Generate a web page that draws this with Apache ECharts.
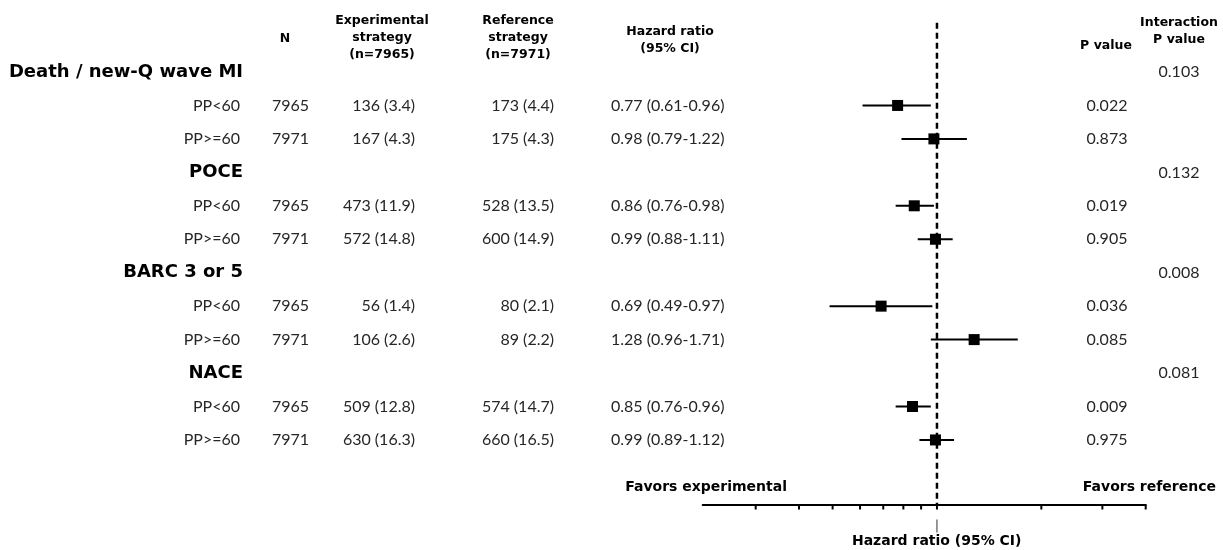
<!DOCTYPE html>
<html><head><meta charset="utf-8">
<script src="https://cdn.jsdelivr.net/npm/echarts@6/dist/echarts.min.js"></script>
<style>html,body{margin:0;padding:0;background:#fff}#c{width:1223px;height:550px}</style>
</head><body><div id="c"></div>
<script>
// ---------- data ----------
const groups = ['Death / new-Q wave MI', 'POCE', 'BARC 3 or 5', 'NACE'];
const interactionP = ['0.103', '0.132', '0.008', '0.081'];
const subgroups = ['PP<60', 'PP>=60'];
const subgroupN = [7965, 7971];
const expEvents = [136, 167, 473, 572, 56, 106, 509, 630];
const expPct = [3.4, 4.3, 11.9, 14.8, 1.4, 2.6, 12.8, 16.3];
const refEvents = [173, 175, 528, 600, 80, 89, 574, 660];
const refPct = [4.4, 4.3, 13.5, 14.9, 2.1, 2.2, 14.7, 16.5];
const hazardRatio = [0.77, 0.98, 0.86, 0.99, 0.69, 1.28, 0.85, 0.99];
const ciLow = [0.61, 0.79, 0.76, 0.88, 0.49, 0.96, 0.76, 0.89];
const ciHigh = [0.96, 1.22, 0.98, 1.11, 0.97, 1.71, 0.96, 1.12];
const pValues = ['0.022', '0.873', '0.019', '0.905', '0.036', '0.085', '0.009', '0.975'];
const xTicks = [0.3, 0.4, 0.5, 0.6, 0.7, 0.8, 0.9, 1, 2, 3, 4];
const xMin = 0.211, xMax = 4, refValue = 1;

// ---------- layout ----------
const W = 1223, H = 550;
const ROW0 = 72, ROWH = 33.45;
const TOP_Y = 22.7, AXIS_Y = 504.5;
const PLOT_L = 702.7, PLOT_R = 1145.7;
const toRow = y => (y - ROW0) / ROWH;
const FONT = 'Lato, "Open Sans", sans-serif';
const BOLD = '"DejaVu Sans", Lato, sans-serif';
const txt = '#262626';

// rows
const groupRows = groups.map((g, i) => i * 3);
const subRows = [];
const subLabels = [];
const subN = [];
groups.forEach((g, i) => subgroups.forEach((s, j) => {
  subRows.push(i * 3 + 1 + j); subLabels.push(s); subN.push(subgroupN[j]);
}));

function textSeries(x, align, rows, texts, opts) {
  opts = opts || {};
  return {
    type: 'scatter', xAxisIndex: 0, yAxisIndex: 0, symbolSize: 0, silent: true, animation: false,
    itemStyle: { color: '#000', opacity: 1 },
    data: rows.map((r, i) => [x, r, texts[i]]),
    label: {
      show: true, position: 'inside', align: align, verticalAlign: 'middle',
      formatter: p => p.data[2],
      color: opts.color || txt, fontFamily: opts.family || FONT, fontSize: opts.size || 16,
      fontWeight: opts.weight || 400, textBorderWidth: 0, textBorderColor: 'transparent', opacity: 1
    }
  };
}

const chart = echarts.init(document.getElementById('c'), null, { renderer: 'canvas' });

const hrText = hazardRatio.map((v, i) => v.toFixed(2) + ' (' + ciLow[i].toFixed(2) + '-' + ciHigh[i].toFixed(2) + ')');

function hdr(x, y, t) {
  return { type: 'text', x: x, y: y, silent: true,
    style: { text: t, fill: '#000', font: 'bold 12.5px ' + BOLD, lineHeight: 17,
      align: 'center', verticalAlign: 'middle', textAlign: 'center', textVerticalAlign: 'middle' } };
}
function lab(x, y, t, a) {
  return { type: 'text', x: x, y: y, silent: true,
    style: { text: t, fill: '#000', font: 'bold 14px ' + BOLD,
      align: a, verticalAlign: 'middle', textAlign: a, textVerticalAlign: 'middle' } };
}

const option = {
  animation: false,
  backgroundColor: '#fff',
  grid: [
    { left: 0, right: 0, top: 0, bottom: 0 },
    { left: PLOT_L, width: PLOT_R - PLOT_L, top: TOP_Y, height: AXIS_Y - TOP_Y }
  ],
  xAxis: [
    { gridIndex: 0, type: 'value', min: 0, max: W, show: false },
    { gridIndex: 1, type: 'log', logBase: 10, min: xMin, max: xMax,
      axisLine: { show: true, onZero: false, lineStyle: { color: '#000', width: 2 } },
      axisTick: { show: false }, axisLabel: { show: false }, splitLine: { show: false } }
  ],
  yAxis: [
    { gridIndex: 0, type: 'value', inverse: true, min: toRow(0), max: toRow(H), show: false },
    { gridIndex: 1, type: 'value', inverse: true, min: toRow(TOP_Y), max: toRow(AXIS_Y), show: false }
  ],
  series: [
    textSeries(243, 'right', groupRows, groups, { weight: 'bold', size: 18, color: '#000', family: BOLD }),
    textSeries(1179, 'center', groupRows, interactionP),
    textSeries(240, 'right', subRows, subLabels),
    textSeries(272, 'left', subRows, subN.map(String)),
    textSeries(415, 'right', subRows, expEvents.map((v, i) => v + ' (' + expPct[i].toFixed(1) + ')')),
    textSeries(554, 'right', subRows, refEvents.map((v, i) => v + ' (' + refPct[i].toFixed(1) + ')')),
    textSeries(611, 'left', subRows, hrText),
    textSeries(1107, 'center', subRows, pValues),
    // reference dashed line
    {
      type: 'line', xAxisIndex: 1, yAxisIndex: 1, symbol: 'none', silent: true,
      data: [[refValue, toRow(TOP_Y)], [refValue, toRow(AXIS_Y)]],
      lineStyle: { color: '#000', width: 2.5, type: [6, 4] }
    },
    // axis ticks + small line under reference
    {
      type: 'custom', xAxisIndex: 1, yAxisIndex: 1, silent: true,
      data: xTicks.map(v => [v, toRow(AXIS_Y)]),
      renderItem: (params, api) => {
        const p = api.coord([api.value(0), api.value(1)]);
        const ch = [{ type: 'line', shape: { x1: p[0], y1: p[1], x2: p[0], y2: p[1] + 5 }, style: { stroke: '#000', lineWidth: 2 } }];
        if (api.value(0) === refValue) {
          ch.push({ type: 'line', shape: { x1: p[0], y1: p[1] + 15, x2: p[0], y2: p[1] + 28 }, style: { stroke: '#333', lineWidth: 1 } });
        }
        return { type: 'group', children: ch };
      }
    },
    // CI whiskers and boxes
    {
      type: 'custom', xAxisIndex: 1, yAxisIndex: 1, silent: true,
      data: hazardRatio.map((v, i) => [ciLow[i], ciHigh[i], v, subRows[i]]),
      encode: { x: [0, 1, 2], y: 3 },
      renderItem: (params, api) => {
        const row = api.value(3);
        const a = api.coord([api.value(0), row]);
        const b = api.coord([api.value(1), row]);
        const c = api.coord([api.value(2), row]);
        const s = 11;
        return { type: 'group', children: [
          { type: 'line', shape: { x1: a[0], y1: a[1], x2: b[0], y2: b[1] }, style: { stroke: '#000', lineWidth: 2 } },
          { type: 'rect', shape: { x: c[0] - s / 2, y: c[1] - s / 2, width: s, height: s }, style: { fill: '#000' } }
        ] };
      }
    }
  ],
  graphic: [
    hdr(285, 39, 'N'),
    hdr(382, 38, 'Experimental\nstrategy\n(n=7965)'),
    hdr(518, 38, 'Reference\nstrategy\n(n=7971)'),
    hdr(670, 40, 'Hazard ratio\n(95% CI)'),
    hdr(1106, 46, 'P value'),
    hdr(1179, 31, 'Interaction\nP value'),
    lab(787, 487, 'Favors experimental', 'right'),
    lab(1216, 487, 'Favors reference', 'right'),
    lab(936.7, 541.5, 'Hazard ratio (95% CI)', 'center')
  ]
};

chart.setOption(option);
</script>
</body></html>
